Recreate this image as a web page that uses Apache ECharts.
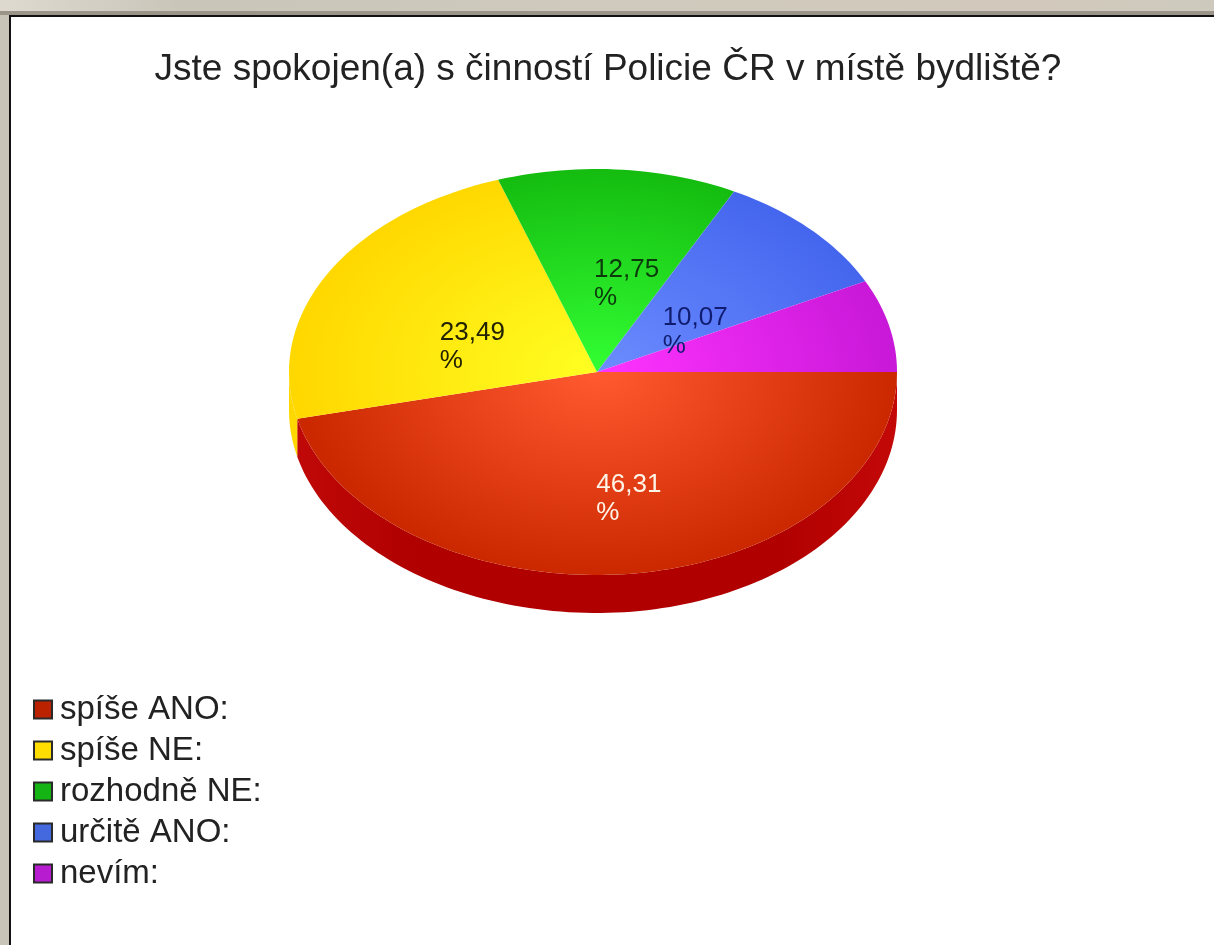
<!DOCTYPE html>
<html>
<head>
<meta charset="utf-8">
<script src="https://cdn.jsdelivr.net/npm/echarts@6/dist/echarts.min.js"></script>
<style>html,body{margin:0;padding:0;background:#fff}#c{width:1214px;height:945px}</style>
</head>
<body>
<div id="c"></div>
<script>
const titleText = 'Jste spokojen(a) s činností Policie ČR v místě bydliště?';
const categories = ['spíše ANO:', 'spíše NE:', 'rozhodně NE:', 'určitě ANO:', 'nevím:'];
const percentValues = [46.31, 23.49, 12.75, 10.07, 7.38];
const labelShown = [true, true, true, true, false];

const legendColors = ['#bb2200', '#ffdd00', '#14b414', '#4468dd', '#b81cd0'];
const centerColors = ['#ff5a30', '#ffff22', '#33ff33', '#6c8cff', '#ff33ff'];
const edgeColors = ['#cc2800', '#ffd800', '#14bc10', '#4466ee', '#c818d8'];
const wallColors = ['#b00000', '#ffd800', '#0a7a0a', '#2233aa', '#801090'];
const labelColors = ['#fff4e8', '#222200', '#0c3a0c', '#101c70', '#222222'];
const labelNudges = [[15, 26], [7, 24], [19, 13], [-8, 31], [0, 0]];

const CX = 597, CY = 372, RX_R = 300, RX_L = 308, RY = 203, DEPTH = 38;
const Y_SCALE = RY / RX_R;
const total = percentValues.reduce((a, b) => a + b, 0);
const rad = d => d * Math.PI / 180;
const toAngle = pct => pct / total * 360;
const rxFor = c => (c < 0 ? RX_L : RX_R);

function cumulativeBefore(i) {
  let s = 0;
  for (let k = 0; k < i; k++) s += percentValues[k];
  return s;
}

function renderSlice(params, api) {
  const i = params.seriesIndex;
  const a0 = toAngle(cumulativeBefore(i));
  const a1 = a0 + toAngle(api.value(0));
  const children = [];

  // side wall: only the part of the slice on the lower half of the ellipse
  const w0 = Math.max(a0, 0), w1 = Math.min(a1, 180);
  if (w1 > w0) {
    const upper = [], lower = [];
    const n = Math.max(2, Math.ceil((w1 - w0) / 1.5));
    for (let k = 0; k <= n; k++) {
      const t = rad(w0 + (w1 - w0) * k / n), c = Math.cos(t), s = Math.sin(t);
      const p = [c * rxFor(c), s * RY];
      upper.push(p);
      lower.unshift([p[0], p[1] + DEPTH]);
    }
    children.push({
      type: 'polygon', x: CX, y: CY, silent: true,
      shape: { points: upper.concat(lower) },
      style: { fill: new echarts.graphic.LinearGradient(-300, 0, 300, 0, [
        { offset: 0, color: i === 0 ? '#c00808' : wallColors[i] },
        { offset: 0.2, color: wallColors[i] },
        { offset: 0.8, color: wallColors[i] },
        { offset: 1, color: i === 0 ? '#c40808' : wallColors[i] }
      ], true) }
    });
  }

  // top face
  const pts = [[0, 0]];
  const m = Math.max(2, Math.ceil((a1 - a0) / 1.5));
  for (let k = 0; k <= m; k++) {
    const t = rad(a0 + (a1 - a0) * k / m), c = Math.cos(t);
    pts.push([c * rxFor(c), Math.sin(t) * RX_R]);
  }
  children.push({
    type: 'polygon', x: CX, y: CY, scaleY: Y_SCALE, silent: true,
    shape: { points: pts },
    style: { fill: new echarts.graphic.RadialGradient(0, 0, 300, [
      { offset: 0, color: centerColors[i] }, { offset: 1, color: edgeColors[i] }
    ], true) }
  });

  if (labelShown[i]) {
    const mid = rad((a0 + a1) / 2);
    children.push({
      type: 'text', z2: 10, silent: true,
      x: CX + Math.cos(mid) * RX_R * 0.5 + labelNudges[i][0] - 33,
      y: CY + Math.sin(mid) * RY * 0.5 + labelNudges[i][1],
      style: {
        text: api.value(0).toFixed(2).replace('.', ',') + '\n%',
        fill: labelColors[i], font: '26px "Liberation Sans"',
        lineHeight: 28, align: 'left', verticalAlign: 'middle'
      }
    });
  }
  return { type: 'group', children };
}

const chart = echarts.init(document.getElementById('c'), null, { renderer: 'canvas' });
chart.setOption({
  animation: false,
  backgroundColor: '#ffffff',
  title: {
    text: titleText, left: 603, top: 46, textAlign: 'center',
    textStyle: { fontFamily: 'Liberation Sans', fontSize: 37, fontWeight: 'normal', color: '#222222' }
  },
  legend: {
    orient: 'vertical', left: 28, top: 688, itemWidth: 18, itemHeight: 18, itemGap: 8,
    selectedMode: false, itemStyle: { borderWidth: 2 },
    textStyle: { fontFamily: 'Liberation Sans', fontSize: 33, color: '#222222', padding: [0, 0, 0, 3], height: 27, lineHeight: 27 },
    data: categories.map((name, i) => ({
      name, icon: 'rect',
      itemStyle: { color: legendColors[i], borderColor: '#2a2a2a', borderWidth: 2 }
    }))
  },
  graphic: { elements: [
    { type: 'rect', z: -10, silent: true, shape: { x: 0, y: 0, width: 1214, height: 15 },
      style: { fill: new echarts.graphic.LinearGradient(0, 0, 1, 0, [
        { offset: 0, color: '#dedad0' }, { offset: 0.15, color: '#c9c5b9' }, { offset: 0.5, color: '#cfcabd' },
        { offset: 0.85, color: '#d2c9bc' }, { offset: 1, color: '#cdcabd' }
      ]) } },
    { type: 'rect', z: -9, silent: true, shape: { x: 0, y: 11, width: 1214, height: 4 }, style: { fill: '#9a9588' } },
    { type: 'rect', z: -10, silent: true, shape: { x: 0, y: 15, width: 9, height: 930 }, style: { fill: '#c8c4b8' } },
    { type: 'rect', z: -8, silent: true, shape: { x: 9, y: 15, width: 1205, height: 2 }, style: { fill: '#111111' } },
    { type: 'rect', z: -8, silent: true, shape: { x: 9, y: 15, width: 2, height: 930 }, style: { fill: '#111111' } }
  ] },
  series: categories.map((name, i) => ({
    type: 'custom', name, coordinateSystem: 'none',
    itemStyle: { color: legendColors[i] },
    renderItem: renderSlice,
    data: [[percentValues[i]]]
  }))
});
</script>
</body>
</html>
